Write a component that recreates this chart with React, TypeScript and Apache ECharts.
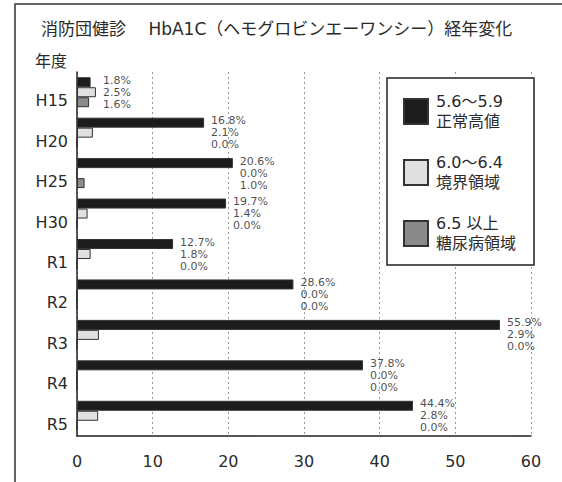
import React, { useEffect, useRef } from "react";
import * as echarts from "echarts";

const TITLE = "消防団健診\u3000 HbA1C（ヘモグロビンエーワンシー）経年変化";
const Y_NAME = "年度";
const categories = ["H15", "H20", "H25", "H30", "R1", "R2", "R3", "R4", "R5"];
const seriesNames = ["5.6～5.9\n正常高値", "6.0～6.4\n境界領域", "6.5 以上\n糖尿病領域"];
const normalHigh = [1.8, 16.8, 20.6, 19.7, 12.7, 28.6, 55.9, 37.8, 44.4];
const borderline = [2.5, 2.1, 0.0, 1.4, 1.8, 0.0, 2.9, 0.0, 2.8];
const diabetic = [1.6, 0.0, 1.0, 0.0, 0.0, 0.0, 0.0, 0.0, 0.0];
const xMin = 0;
const xMax = 60;
const xInterval = 10;

const FONT = "DejaVu Sans, Noto Sans CJK JP, sans-serif";

export default function App() {
  const ref = useRef<HTMLDivElement>(null);
  useEffect(() => {
    document.body.style.margin = "0";
    if (!ref.current) return;
    const chart = echarts.init(ref.current, undefined, { renderer: "svg" });
    const values = [normalHigh, borderline, diabetic];
    const colors = ["#1c1c1c", "#e0e0e0", "#8a8a8a"];
    const labelPoints = categories.map((_, i) => [
      Math.max(normalHigh[i], borderline[i], diabetic[i]),
      i,
    ]);
    chart.setOption({
      animation: false,
      backgroundColor: "#ffffff",
      title: {
        text: TITLE,
        left: 36,
        top: 15,
        textStyle: { fontSize: 17, fontWeight: "normal", color: "#2a2a2a", fontFamily: FONT },
      },
      graphic: [
        {
          type: "rect",
          shape: { x: 15, y: 4, width: 700, height: 700 },
          style: { fill: "none", stroke: "#333", lineWidth: 1.5 },
          silent: true,
        },
        {
          type: "text",
          x: 35,
          y: 61,
          style: {
            text: Y_NAME,
            fontSize: 16,
            fontFamily: FONT,
            fill: "#2a2a2a",
            verticalAlign: "middle",
          },
        },
      ],
      legend: {
        orient: "vertical",
        left: 387,
        top: 78,
        data: seriesNames,
        itemWidth: 24,
        itemHeight: 25,
        itemGap: 22,
        padding: [14, 18, 12, 16],
        backgroundColor: "#ffffff",
        borderColor: "#222",
        borderWidth: 1.5,
        borderRadius: 0,
        icon: "rect",
        textStyle: {
          fontSize: 16,
          lineHeight: 19.5,
          color: "#2a2a2a",
          fontFamily: FONT,
          padding: [0, 0, 0, 3],
        },
      },
      grid: { left: 77, right: 31, top: 72, bottom: 46, containLabel: false },
      xAxis: {
        type: "value",
        min: xMin,
        max: xMax,
        interval: xInterval,
        axisLine: { show: true, lineStyle: { color: "#222", width: 1.5 } },
        axisTick: { show: false },
        axisLabel: { fontSize: 16, color: "#2a2a2a", fontFamily: FONT, margin: 17 },
        splitLine: { show: true, lineStyle: { color: "#999", type: [2, 3], width: 1 } },
      },
      yAxis: {
        type: "category",
        data: categories,
        inverse: true,
        axisLine: { show: true, lineStyle: { color: "#222", width: 1.5 } },
        axisTick: { show: false },
        axisLabel: {
          fontSize: 16,
          color: "#2a2a2a",
          fontFamily: FONT,
          margin: 9,
          verticalAlign: "top",
          lineHeight: 17,
        },
        splitLine: { show: false },
      },
      series: [
        ...values.map((v, k) => ({
          type: "bar",
          name: seriesNames[k],
          data: v,
          barWidth: 10,
          barGap: "0%",
          itemStyle: { color: colors[k], borderColor: "#333", borderWidth: 1 },
        })),
        {
          type: "scatter",
          name: "labels",
          data: labelPoints,
          symbolSize: 0,
          itemStyle: { color: "transparent" },
          z: 5,
          label: {
            show: true,
            position: "right",
            distance: 7,
            align: "left",
            fontSize: 11,
            lineHeight: 12,
            color: "#1a1a1a",
            fontFamily: FONT,
            formatter: (p: any) => {
              const i = p.dataIndex;
              return `${normalHigh[i].toFixed(1)}%\n${borderline[i].toFixed(1)}%\n${diabetic[i].toFixed(1)}%`;
            },
          },
        },
      ],
    });
    return () => chart.dispose();
  }, []);
  return <div ref={ref} style={{ width: 562, height: 482 }} />;
}
